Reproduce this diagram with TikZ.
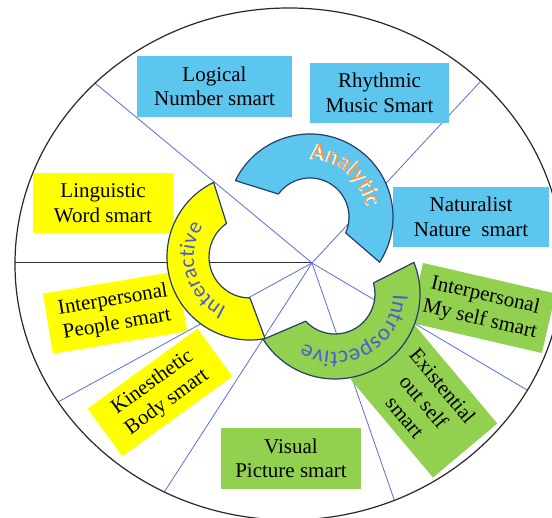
\documentclass[tikz,border=0pt]{standalone}
\usepackage{fontspec}
\setmainfont{Liberation Serif}
\newfontfamily\cardfont{Liberation Serif}
\newfontfamily\arcfont{Carlito}
\usetikzlibrary{calc,decorations.text}

\definecolor{skyfill}{RGB}{92,198,238}
\definecolor{sunfill}{RGB}{255,255,0}
\definecolor{leaffill}{RGB}{146,208,80}
\definecolor{bandline}{RGB}{38,62,105}
\definecolor{spokeblue}{RGB}{88,112,215}
\definecolor{inkblue}{RGB}{78,92,212}
\definecolor{inkorange}{RGB}{246,150,72}

\begin{document}
\begin{tikzpicture}[x=1pt,y=1pt,
  rim/.style={draw={rgb,255:red,40;green,40;blue,40}, line width=1.2pt},
  spoke/.style={draw=spokeblue, line width=0.8pt},
  divider/.style={draw={rgb,255:red,50;green,50;blue,50}, line width=1pt},
  card/.style={inner sep=0pt, align=center, text=black,
    font=\cardfont\fontsize{21}{24.5}\selectfont},
  band/.style={draw=bandline, line width=1.2pt, line join=round},
]
\useasboundingbox (0,0) rectangle (552,518);
\clip (0,0) rectangle (552,518);
\fill[white] (0,0) rectangle (552,518);

% outer ring and the spokes from the hub
\coordinate (ringc) at (289,254);
\coordinate (hub) at (312,255);
\coordinate (s1) at (95,435);
\coordinate (s2) at (479,435);
\coordinate (s3) at (58,116);
\coordinate (s4) at (163,24);
\coordinate (s5) at (395,16);
\coordinate (s6) at (527,128);
\coordinate (s0) at (0,255);
\begin{scope}
  \clip (ringc) ellipse [x radius=274, y radius=256];
  \draw[divider] (hub) -- (s0);
  \foreach \s in {s1,s2,s3,s4,s5,s6}
    \draw[spoke] (hub) -- ($(hub)!1.3!(\s)$);
\end{scope}
\draw[rim] (ringc) ellipse [x radius=274, y radius=256];

% intelligence cards
\node[card, fill=skyfill, minimum width=155, minimum height=61] (logical) at (214.5,431.5) {Logical\\Number smart};
\node[card, fill=skyfill, minimum width=139, minimum height=60] (rhythmic) at (379.5,425) {Rhythmic\\Music Smart};
\node[card, fill=skyfill, minimum width=156, minimum height=60] (naturalist) at (471,301) {Naturalist\\Nature\ \ smart};
\node[card, fill=sunfill, minimum width=140, minimum height=60] (linguistic) at (103,315) {Linguistic\\Word smart};
\node[card, fill=sunfill, minimum width=136, minimum height=61, rotate=9.5] (people) at (115,205.5) {Interpersonal\\People smart};
\node[card, fill=sunfill, minimum width=136, minimum height=59, rotate=36] (kinesthetic) at (160,125.5) {Kinesthetic\\Body smart};
\node[card, fill=leaffill, minimum width=140, minimum height=61] (visual) at (291,59.5) {Visual\\Picture smart};
\node[card, fill=leaffill, minimum width=136, minimum height=61, rotate=-13] (myself) at (482.5,210) {Interpersonal\\My self smart};
\node[card, fill=leaffill, minimum width=128, minimum height=84, rotate=-50] (existential) at (424,116.5) {Existential\\out self\\smart};

% the three curved bands
\coordinate (anac) at (310,301);
\coordinate (interc) at (250,261);
\coordinate (introc) at (335,224);

\draw[band, fill=skyfill] ($(anac)+(154:83)$) arc[start angle=154, end angle=-33, radius=83]
  -- ($(anac)+(-24:39)$) arc[start angle=-24, end angle=144, radius=39] -- cycle;
\draw[band, fill=sunfill] ($(interc)+(116:83)$) arc[start angle=116, end angle=280.5, radius=83]
  -- ($(interc)+(270:41)$) arc[start angle=270, end angle=125, radius=41] -- cycle;
\draw[band, fill=leaffill] ($(introc)+(21.8:85)$) arc[start angle=21.8, end angle=-147.7, radius=85]
  -- ($(introc)+(-137.2:40)$) arc[start angle=-137.2, end angle=16, radius=40] -- cycle;

% band labels
\path[decorate, decoration={text along path, text align=center, text color=white,
  text={|\arcfont\fontsize{24}{24}\selectfont\bfseries|Analytic}}]
  ($(anac)+(97:57)$) arc[start angle=97, end angle=3, radius=57];
\path[decorate, decoration={text along path, text align=center, text color=inkorange,
  text={|\arcfont\fontsize{24}{24}\selectfont|Analytic}}]
  ($(anac)+(97:57.6)$) arc[start angle=97, end angle=3, radius=57.6];
\path[decorate, decoration={text along path, text align=center, text color=inkblue,
  text={|\arcfont\fontsize{22}{22}\selectfont|Interactive}}]
  ($(interc)+(245:56)$) arc[start angle=245, end angle=147, radius=56];
\path[decorate, decoration={text along path, text align=center, text color=inkblue,
  text={|\arcfont\fontsize{23}{23}\selectfont|Introspective}}]
  ($(introc)+(4:58)$) arc[start angle=4, end angle=-126, radius=58];
\end{tikzpicture}
\end{document}
